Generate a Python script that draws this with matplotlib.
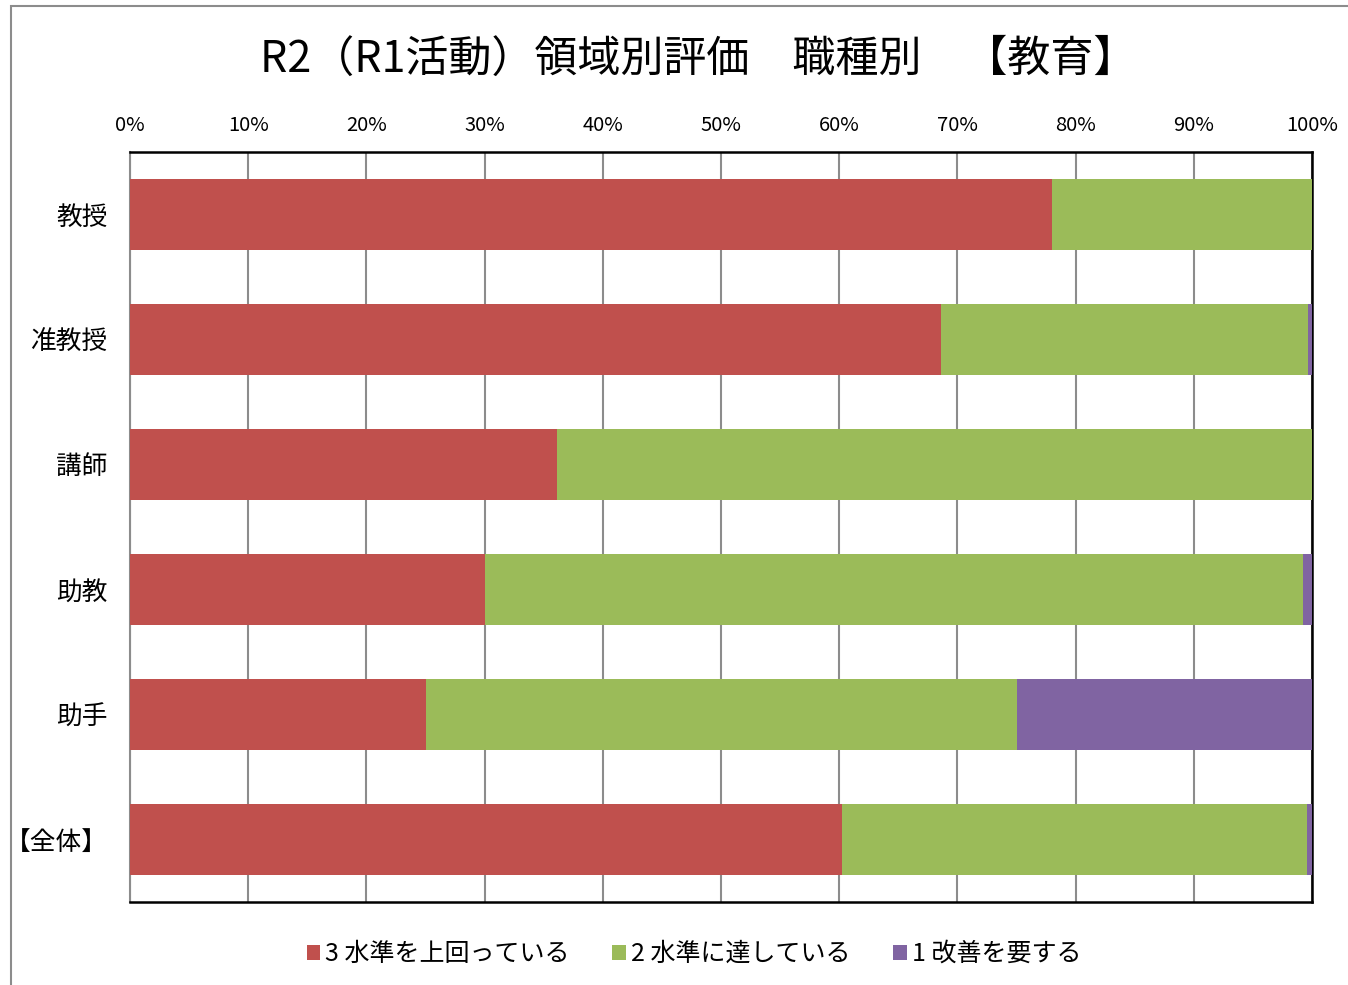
import matplotlib
matplotlib.use("Agg")
import matplotlib.pyplot as plt
from matplotlib.patches import Rectangle
import numpy as np

plt.rcParams['font.family'] = ['Noto Sans CJK JP', 'DejaVu Sans']

categories = ['教授', '准教授', '講師', '助教', '助手', '【全体】']
series_names = ['3 水準を上回っている', '2 水準に達している', '1 改善を要する']
level3 = [78.0, 68.6, 36.1, 30.0, 25.0, 60.2]
level2 = [22.0, 31.06, 63.9, 69.2, 50.0, 39.4]
level1 = [0.0, 0.34, 0.0, 0.8, 25.0, 0.4]
colors = ['#C0504D', '#9BBB59', '#8064A2']
title = 'R2（R1活動）領域別評価　職種別　【教育】'
xticks = list(range(0, 101, 10))

W, H = 1348, 985
fig = plt.figure(figsize=(W / 100, H / 100), dpi=100)
fig.patch.set_facecolor('white')

# outer chart frame
fig.patches.append(Rectangle((11 / W, -0.05), 1.2, (H - 6) / H + 0.05, transform=fig.transFigure,
                             fill=False, edgecolor='#8c8c8c', linewidth=1.5))

ax = fig.add_axes([130 / W, 1 - 902 / H, (1312 - 130) / W, (902 - 152) / H])
y = np.arange(len(categories))
data = [level3, level2, level1]
left = np.zeros(len(categories))
for vals, c, name in zip(data, colors, series_names):
    vals = np.array(vals)
    ax.barh(y, vals, left=left, height=0.57, color=c, label=name, zorder=3)
    left = left + vals

ax.set_xlim(0, 100)
ax.set_ylim(len(categories) - 0.5, -0.5)
ax.set_yticks(y)
ax.set_yticklabels(categories, fontsize=18.5)
ax.set_xticks(xticks)
ax.set_xticklabels([f'{t}%' for t in xticks], fontsize=14.5)
ax.xaxis.tick_top()
ax.tick_params(axis='x', length=0, pad=11.5)
ax.tick_params(axis='y', length=0, pad=16)
ax.grid(axis='x', color='#8c8c8c', linewidth=1.5, zorder=0)
for s in ['top', 'right', 'bottom']:
    ax.spines[s].set_color('black')
    ax.spines[s].set_linewidth(1.8)
ax.spines['left'].set_color('#8c8c8c')
ax.spines['left'].set_linewidth(1.5)

fig.text(698 / W, 1 - 60 / H, title, ha='center', va='center', fontsize=31)

handles, labels = ax.get_legend_handles_labels()
fig.legend(handles, labels, loc='center', bbox_to_anchor=(694 / W, 1 - 954 / H), ncol=3,
           frameon=False, fontsize=18, handlelength=0.55, handleheight=0.55,
           handletextpad=0.2, columnspacing=1.7)

fig.savefig('out.png', dpi=100)
